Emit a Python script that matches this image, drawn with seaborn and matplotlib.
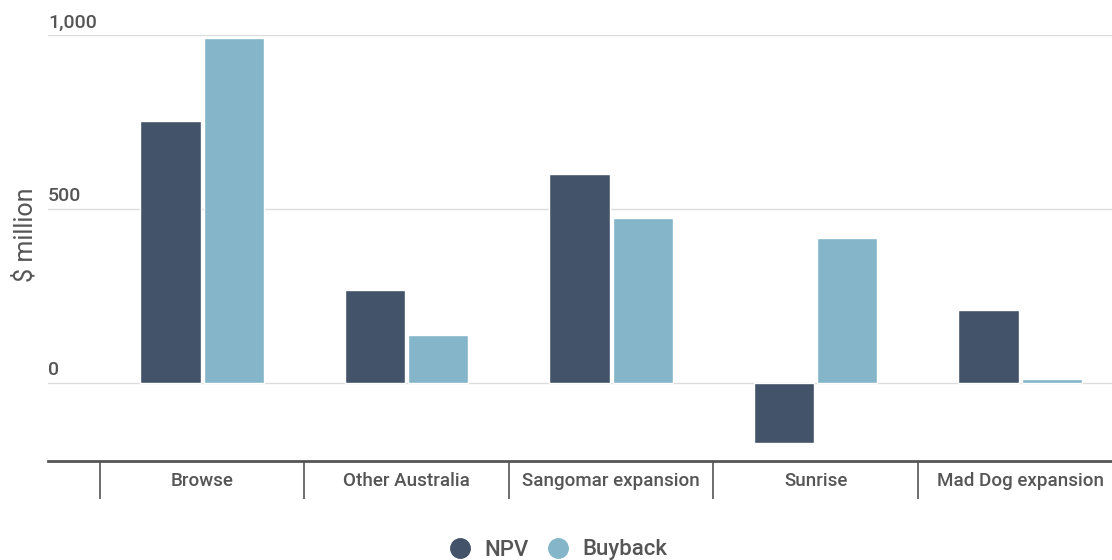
import numpy as np
import pandas as pd
import matplotlib.pyplot as plt
from matplotlib.lines import Line2D
import seaborn as sns

# data
projects = ["Browse", "Other Australia", "Sangomar expansion", "Sunrise", "Mad Dog expansion"]
npv = [753, 267, 600, -172, 210]
buyback = [991, 138, 474, 417, 12]
series = ["NPV", "Buyback"]
y_ticks = [0, 500, 1000]
y_tick_labels = ["0", "500", "1,000"]

colors = {"NPV": "#435369", "Buyback": "#85b5c9"}
text_color = "#555555"

df = pd.DataFrame({
    "project": projects * 2,
    "series": [series[0]] * len(projects) + [series[1]] * len(projects),
    "value": npv + buyback,
})

sns.set_style("white")
plt.rcParams["font.family"] = ["Roboto", "DejaVu Sans"]

fig = plt.figure(figsize=(11.12, 5.6), dpi=100)
ax = fig.add_axes([48 / 1112, 1 - 461 / 560, 1 - 48 / 1112, (461 - 35) / 560])

sns.barplot(data=df, x="project", y="value", hue="series", palette=colors,
            width=0.62, gap=0.05, order=projects, hue_order=series,
            saturation=1, legend=False, ax=ax)

ax.set_xlim(-0.754, 4.449)
ax.set_ylim(-225, 1000)

# grid lines and y labels sitting above them
ax.set_yticks(y_ticks)
ax.yaxis.grid(True, color="#dddddd", linewidth=1)
ax.set_axisbelow(True)
ax.tick_params(axis="y", length=0, labelleft=False)
for v, lab in zip(y_ticks, y_tick_labels):
    ax.text(0, v + 10, lab, transform=ax.get_yaxis_transform(), ha="left",
            va="bottom", fontsize=14, fontweight="medium", color=text_color)

# category separators as major ticks, names on minor ticks
n = len(projects)
ax.set_xticks(np.arange(n) - 0.5)
ax.set_xticklabels([])
ax.set_xticks(np.arange(n), minor=True)
ax.set_xticklabels(projects, minor=True, fontsize=13.5, fontweight="medium", color=text_color)
ax.tick_params(axis="x", which="major", bottom=True, length=27, width=1.2,
               color=text_color, direction="out")
ax.tick_params(axis="x", which="minor", bottom=True, length=0, pad=8)
ax.set_xlabel("")

ax.set_ylabel("$ million", fontsize=18, color=text_color)
ax.yaxis.set_label_coords(-0.010, 0.53)

for s in ["top", "right", "left"]:
    ax.spines[s].set_visible(False)
ax.spines["bottom"].set_color(text_color)
ax.spines["bottom"].set_linewidth(2)

handles = [Line2D([], [], marker="o", linestyle="", markersize=14,
                  markerfacecolor=colors[s], markeredgecolor=colors[s]) for s in series]
fig.legend(handles, series, loc="center", bbox_to_anchor=(0.497, 1 - 550 / 560),
           ncol=2, frameon=False, prop={"size": 16, "weight": "medium"},
           handletextpad=0.1, columnspacing=0.3, labelcolor=text_color)

fig.savefig("out.png", dpi=100)
